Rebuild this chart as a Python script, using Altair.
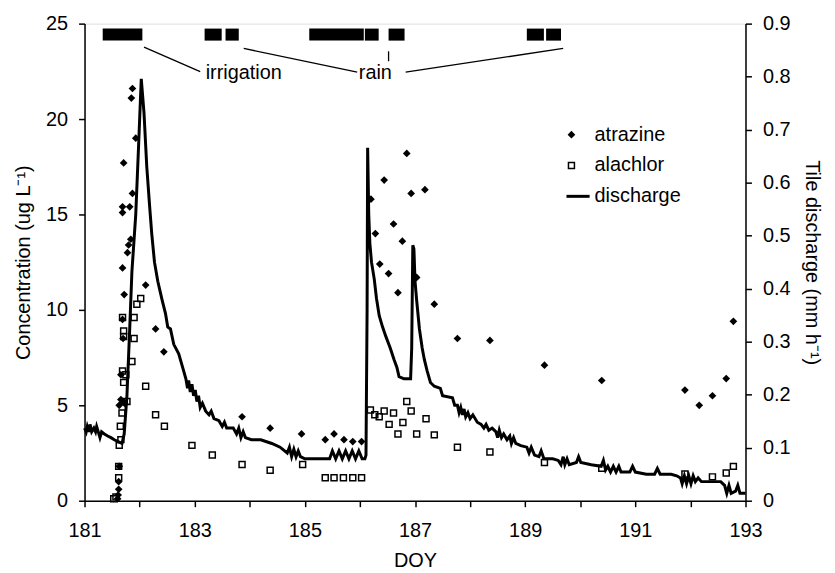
import altair as alt
import pandas as pd

FONT = "Liberation Sans"

# ---------------- data ----------------
atr_doy = [181.60, 181.61, 181.62, 181.62, 181.63, 181.63, 181.66, 181.70, 181.73, 181.66,
           181.70, 181.69, 181.72, 181.69, 181.78, 181.80, 181.84, 181.69, 181.69, 181.82,
           181.87, 181.71, 181.93, 181.85, 181.87, 182.11, 182.29, 182.44, 183.86, 184.37,
           184.94, 185.37, 185.53, 185.71, 185.87, 186.03, 186.20, 186.28, 186.36, 186.44,
           186.52, 186.61, 186.69, 186.77, 186.85, 186.93, 187.03, 187.18, 187.35, 187.77,
           188.36, 189.35, 190.39, 191.90, 192.16, 192.40, 192.65, 192.78]
atr_val = [0.1, 0.3, 0.6, 1.0, 1.8, 5.0, 5.3, 5.2, 5.1, 6.6,
           8.5, 9.5, 10.8, 12.2, 13.0, 13.4, 13.7, 15.1, 15.4, 15.4,
           16.1, 17.7, 19.0, 21.1, 21.6, 11.3, 9.0, 7.8, 4.4, 3.8,
           3.5, 3.2, 3.5, 3.2, 3.1, 3.1, 15.8, 14.0, 12.4, 16.8,
           11.9, 14.5, 10.9, 13.6, 18.2, 16.1, 11.7, 16.3, 10.3, 8.5,
           8.4, 7.1, 6.3, 5.8, 5.0, 5.5, 6.4, 9.4]

ala_doy = [181.53, 181.57, 181.62, 181.62, 181.63, 181.66, 181.65, 181.68, 181.77, 181.71,
           181.75, 181.69, 181.86, 181.90, 181.71, 181.71, 181.69, 181.90, 181.95, 182.02,
           182.11, 182.29, 182.45, 182.95, 183.32, 183.86, 184.37, 184.96, 185.37, 185.53,
           185.70, 185.87, 186.03, 186.19, 186.27, 186.35, 186.44, 186.53, 186.61, 186.69,
           186.78, 186.85, 186.93, 187.03, 187.20, 187.35, 187.77, 188.36, 189.35, 190.39,
           191.90, 192.40, 192.65, 192.78]
ala_val = [0.1, 0.2, 1.2, 1.8, 2.9, 3.2, 3.9, 4.6, 5.2, 6.2,
           6.6, 6.8, 7.3, 8.5, 8.6, 8.9, 9.6, 9.6, 10.3, 10.6,
           6.0, 4.5, 3.9, 2.9, 2.4, 1.9, 1.6, 1.9, 1.2, 1.2,
           1.2, 1.2, 1.2, 4.75, 4.5, 4.4, 4.7, 4.0, 4.6, 3.5,
           4.1, 5.2, 4.7, 3.5, 4.3, 3.45, 2.8, 2.55, 2.0, 1.7,
           1.4, 1.25, 1.45, 1.8]

q_doy = [181.00, 181.03, 181.05, 181.08, 181.10, 181.13, 181.17, 181.20, 181.22, 181.25,
         181.28, 181.31, 181.36, 181.42, 181.48, 181.54, 181.60, 181.68, 181.72, 181.77,
         181.82, 181.86, 181.93, 181.98, 182.03, 182.08, 182.13, 182.18, 182.22, 182.27,
         182.33, 182.41, 182.47, 182.51, 182.56, 182.62, 182.71, 182.78, 182.84, 182.87,
         182.89, 182.92, 182.95, 182.98, 183.01, 183.04, 183.07, 183.10, 183.14, 183.20,
         183.26, 183.30, 183.35, 183.44, 183.50, 183.54, 183.58, 183.70, 183.76, 183.80,
         183.84, 183.88, 183.92, 184.03, 184.20, 184.40, 184.55, 184.68, 184.72, 184.76,
         184.80, 184.84, 184.88, 184.92, 185.00, 185.45, 185.50, 185.56, 185.62, 185.68,
         185.74, 185.80, 185.86, 185.92, 185.98, 186.04, 186.09, 186.11, 186.13, 186.14,
         186.16, 186.18, 186.21, 186.26, 186.30,
         186.35, 186.41, 186.47, 186.55, 186.62, 186.67, 186.71, 186.80, 186.92, 186.94,
         186.96, 186.98, 187.00, 187.03, 187.08, 187.13, 187.17, 187.22, 187.28, 187.35,
         187.46, 187.50, 187.68, 187.72, 187.77, 187.80, 187.83, 187.86, 187.89, 187.92,
         187.96, 188.00, 188.05, 188.13, 188.20, 188.25, 188.29, 188.34, 188.40, 188.47,
         188.50, 188.53, 188.57, 188.61, 188.67, 188.72, 188.75, 188.79, 188.83, 188.92,
         189.03, 189.07, 189.11, 189.17, 189.25, 189.29, 189.34, 189.50, 189.60, 189.65,
         189.69, 189.72, 189.76, 189.80, 189.93, 189.97, 190.01, 190.20, 190.38, 190.42,
         190.46, 190.50, 190.55, 190.60, 190.65, 190.70, 190.74, 190.90, 190.95, 191.00,
         191.20, 191.35, 191.40, 191.45, 191.65, 191.75, 191.82, 191.85, 191.89, 191.93,
         191.97, 192.01, 192.05, 192.09, 192.14, 192.20, 192.55, 192.62, 192.66, 192.70,
         192.74, 192.82, 192.86, 192.90, 193.00]
q_val = [0.137, 0.130, 0.140, 0.130, 0.144, 0.130, 0.137, 0.130, 0.140, 0.130,
         0.119, 0.130, 0.126, 0.122, 0.119, 0.115, 0.112, 0.108, 0.126, 0.198,
         0.324, 0.432, 0.540, 0.666, 0.796, 0.731, 0.630, 0.558, 0.504, 0.450,
         0.414, 0.378, 0.353, 0.328, 0.324, 0.295, 0.277, 0.252, 0.230, 0.212,
         0.227, 0.205, 0.220, 0.198, 0.209, 0.187, 0.198, 0.176, 0.184, 0.169,
         0.162, 0.169, 0.155, 0.151, 0.140, 0.148, 0.137, 0.137, 0.126, 0.137,
         0.119, 0.130, 0.119, 0.115, 0.115, 0.108, 0.101, 0.090, 0.101, 0.083,
         0.097, 0.083, 0.094, 0.083, 0.079, 0.079, 0.094, 0.079, 0.094, 0.079,
         0.094, 0.079, 0.094, 0.079, 0.094, 0.079, 0.079, 0.086, 0.360, 0.666,
         0.540, 0.486, 0.450, 0.418, 0.382,
         0.349, 0.328, 0.310, 0.288, 0.266, 0.252, 0.234, 0.230, 0.230, 0.288,
         0.482, 0.475, 0.414, 0.378, 0.324, 0.288, 0.266, 0.245, 0.223, 0.216,
         0.212, 0.198, 0.194, 0.180, 0.180, 0.166, 0.176, 0.162, 0.173, 0.158,
         0.166, 0.155, 0.162, 0.148, 0.144, 0.137, 0.144, 0.133, 0.137, 0.130,
         0.119, 0.133, 0.119, 0.126, 0.115, 0.122, 0.108, 0.119, 0.108, 0.104,
         0.101, 0.090, 0.101, 0.086, 0.083, 0.094, 0.079, 0.079, 0.076, 0.068,
         0.083, 0.068, 0.079, 0.068, 0.072, 0.083, 0.072, 0.068, 0.065, 0.076,
         0.058, 0.065, 0.054, 0.065, 0.054, 0.065, 0.054, 0.054, 0.065, 0.054,
         0.050, 0.050, 0.061, 0.050, 0.050, 0.047, 0.043, 0.032, 0.047, 0.032,
         0.047, 0.032, 0.047, 0.036, 0.043, 0.036, 0.036, 0.029, 0.014, 0.029,
         0.014, 0.018, 0.029, 0.014, 0.014]

# event bars (irrigation / rain), DOY start-end
ev_start = [181.33, 183.18, 183.56, 185.08, 186.09, 186.52, 189.03, 189.38]
ev_end = [182.05, 183.49, 183.80, 186.07, 186.34, 186.81, 189.34, 189.65]
ev_bottom = 24.11
ev_top = 24.74

# leader lines (DOY, concentration)
ld_x1 = [182.08, 183.89, 186.52, 186.83]
ld_y1 = [23.77, 23.70, 23.55, 22.46]
ld_x2 = [183.10, 185.95, 186.52, 189.69]
ld_y2 = [22.48, 22.46, 23.03, 23.70]

lab_text = ["irrigation", "rain"]
lab_x = [183.89, 186.28]
lab_y = [22.43, 22.43]

# legend
leg_labels = ["atrazine", "alachlor", "discharge"]
leg_sym_x = 189.84
leg_line_x1 = 189.75
leg_line_x2 = 190.17
leg_text_x = 190.26
leg_y = [19.18, 17.57, 15.95]

# ---------------- frames ----------------
atr = pd.DataFrame({"doy": atr_doy, "c": atr_val})
ala = pd.DataFrame({"doy": ala_doy, "c": ala_val})
dis = pd.DataFrame({"doy": q_doy, "q": q_val})
ev = pd.DataFrame({"s": ev_start, "e": ev_end, "b": [ev_bottom] * len(ev_start), "t": [ev_top] * len(ev_start)})
ld = pd.DataFrame({"x1": ld_x1, "y1": ld_y1, "x2": ld_x2, "y2": ld_y2})
lab = pd.DataFrame({"t": lab_text, "x": lab_x, "y": lab_y})
leg = pd.DataFrame({"t": leg_labels, "y": leg_y})

xscale = alt.Scale(domain=[181, 193], nice=False, zero=False)
yscale = alt.Scale(domain=[0, 25], nice=False)
qscale = alt.Scale(domain=[0, 0.9], nice=False)

common = dict(grid=False, tickSize=6, labelFontSize=20, titleFontSize=20,
              titleFontWeight="normal", labelFont=FONT, titleFont=FONT,
              domainColor="black", tickColor="black", labelColor="black",
              titleColor="black", domainWidth=1.5, tickWidth=1.5, labelFlush=False)

xaxis = alt.Axis(title="DOY", values=list(range(181, 194)),
                 labelExpr="datum.value % 2 == 1 ? datum.label : ''",
                 labelPadding=14, titlePadding=10, format="d", labelOverlap=False,
                 **common)
yaxis = alt.Axis(title="Concentration (ug L\u207b\u00b9)", values=[0, 5, 10, 15, 20, 25],
                 labelPadding=11, titlePadding=12, **common)
qaxis = alt.Axis(title="Tile discharge (mm h\u207b\u00b9)", orient="right",
                 values=[0, 0.1, 0.2, 0.3, 0.4, 0.5, 0.6, 0.7, 0.8, 0.9],
                 labelExpr="datum.value == 0 ? '0' : format(datum.value, '.1f')",
                 labelPadding=11, titlePadding=12, **common)


def X(f):
    return alt.X(f, type="quantitative", scale=xscale, axis=xaxis)


def Y(f):
    return alt.Y(f, type="quantitative", scale=yscale, axis=yaxis)


def XD(v):
    return alt.datum(v, type="quantitative", scale=xscale, axis=xaxis)


bars = alt.Chart(ev).mark_rect(color="black").encode(
    x=X("s"), x2="e", y=Y("b"), y2="t")

leaders = alt.Chart(ld).mark_rule(color="black", strokeWidth=1.3).encode(
    x=X("x1"), y=Y("y1"), x2="x2", y2="y2")

labels = alt.Chart(lab).mark_text(font=FONT, fontSize=20, color="black",
                                  align="center", baseline="middle").encode(
    x=X("x"), y=Y("y"), text="t:N")

ala_pts = alt.Chart(ala).mark_point(shape="square", filled=False, color="black",
                                    strokeWidth=1.5, size=36, opacity=1).encode(
    x=X("doy"), y=Y("c"))

atr_pts = alt.Chart(atr).mark_point(shape="diamond", filled=True, color="black",
                                    size=60, opacity=1).encode(
    x=X("doy"), y=Y("c"))

leg_atr = alt.Chart(leg.iloc[[0]]).mark_point(shape="diamond", filled=True, color="black",
                                              size=60, opacity=1).encode(
    x=XD(leg_sym_x), y=Y("y"))
leg_ala = alt.Chart(leg.iloc[[1]]).mark_point(shape="square", filled=False, color="black",
                                              strokeWidth=1.5, size=36, opacity=1).encode(
    x=XD(leg_sym_x), y=Y("y"))
leg_line = alt.Chart(leg.iloc[[2]]).mark_rule(color="black", strokeWidth=3).encode(
    x=XD(leg_line_x1), x2=alt.datum(leg_line_x2), y=Y("y"))
leg_txt = alt.Chart(leg).mark_text(font=FONT, fontSize=20, color="black",
                                   align="left", baseline="middle").encode(
    x=XD(leg_text_x), y=Y("y"), text="t:N")

conc = alt.layer(bars, leaders, labels, ala_pts, atr_pts, leg_atr, leg_ala, leg_line, leg_txt)

discharge = alt.Chart(dis).mark_line(color="black", strokeWidth=3).encode(
    x=X("doy"), y=alt.Y("q", type="quantitative", scale=qscale, axis=qaxis))

chart = alt.layer(conc, discharge).resolve_scale(y="independent").properties(
    width=665, height=480,
    autosize=alt.AutoSizeParams(type="none"),
    padding={"left": 77, "top": 14, "right": 82, "bottom": 70},
).configure_view(stroke="black", strokeWidth=1.5).configure(background="white")

chart.save("out.html", embed_options={"renderer": "svg", "actions": False})
